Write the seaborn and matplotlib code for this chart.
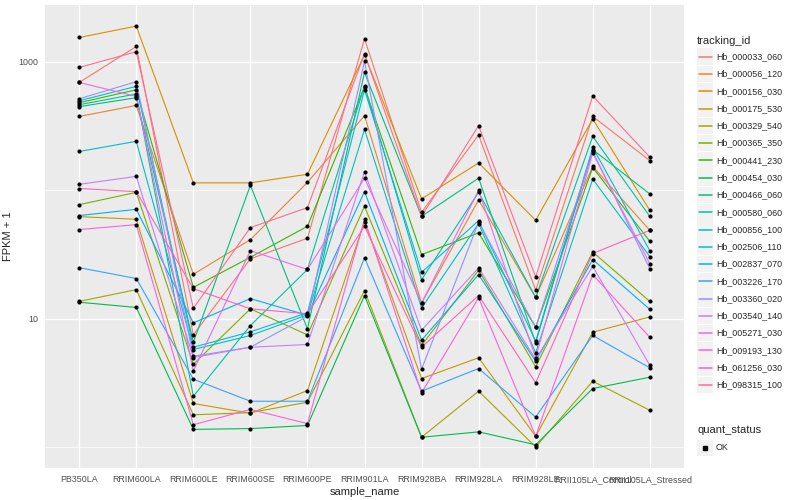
import matplotlib
matplotlib.use("Agg")
import matplotlib.pyplot as plt
import seaborn as sns
import numpy as np
import pandas as pd
from matplotlib.lines import Line2D
from matplotlib.patches import Rectangle
from matplotlib.ticker import FixedLocator, NullFormatter

# data: FPKM + 1 per sample
samples = ["PB350LA", "RRIM600LA", "RRIM600LE", "RRIM600SE", "RRIM600PE", "RRIM901LA",
           "RRIM928BA", "RRIM928LA", "RRIM928LE", "RRII105LA_Control", "RRII105LA_Stressed"]

hb_000033_060 = [690, 1315, 7.46, 29.2, 42.2, 1510, 67.2, 269, 16.6, 375, 170]
hb_000056_120 = [375, 457, 22.1, 41.2, 115, 380, 13.2, 83.9, 14.6, 153, 48.7]
hb_000156_030 = [1545, 1895, 114, 114, 133, 1133, 85.5, 163, 58.2, 358, 69.7]
hb_000175_530 = [62.2, 59.3, 2.18, 1.83, 2.75, 56.9, 3.41, 4.95, 1.21, 7.82, 10.3]
hb_000329_540 = [13.6, 16.8, 1.78, 1.85, 2.23, 16.5, 1.19, 2.72, 1.0, 3.25, 1.93]
hb_000365_350 = [77.1, 96.1, 4.41, 11.9, 7.46, 74.8, 6.17, 23.8, 4.21, 33.0, 13.6]
hb_000441_230 = [480, 605, 17.5, 30.0, 52.3, 635, 31.5, 46.5, 8.56, 150, 40.0]
hb_000454_030 = [13.4, 12.2, 1.37, 1.39, 1.47, 15.1, 1.19, 1.31, 1.04, 2.85, 3.49]
hb_000466_060 = [447, 525, 6.54, 109, 8.31, 826, 62.5, 124, 6.47, 207, 93.4]
hb_000580_060 = [463, 561, 2.48, 8.82, 24.1, 650, 20.1, 96.1, 14.6, 262, 62.5]
hb_000856_100 = [200, 240, 5.74, 7.38, 10.7, 297, 12.1, 54.8, 5.41, 122, 30.4]
hb_002506_110 = [497, 643, 5.98, 7.88, 11.1, 605, 22.9, 57.9, 6.66, 215, 33.8]
hb_002837_070 = [63.4, 70.9, 9.26, 14.3, 10.6, 97.3, 6.78, 22.0, 4.65, 28.8, 11.8]
hb_003226_170 = [24.9, 20.5, 3.37, 2.27, 2.27, 29.7, 2.72, 4.08, 1.71, 7.38, 4.13]
hb_003360_020 = [515, 699, 5.09, 5.98, 10.4, 1005, 4.03, 56.2, 8.56, 200, 24.5]
hb_003540_140 = [111, 128, 4.97, 5.98, 6.28, 139, 8.11, 24.8, 4.80, 25.5, 4.33]
hb_005271_030 = [690, 537, 3.92, 33.8, 24.1, 124, 13.2, 99.6, 4.95, 195, 26.8]
hb_009193_130 = [49.3, 53.9, 1.49, 1.96, 1.52, 59.3, 2.64, 14.5, 1.21, 22.0, 7.15]
hb_061256_030 = [103, 97.3, 17.1, 11.9, 10.9, 52.3, 5.98, 15.1, 3.16, 32.1, 48.7]
hb_098315_100 = [903, 1197, 12.0, 51.1, 73.1, 1153, 62.5, 318, 21.1, 541, 181]

tracking_ids = ["Hb_000033_060", "Hb_000056_120", "Hb_000156_030", "Hb_000175_530",
                "Hb_000329_540", "Hb_000365_350", "Hb_000441_230", "Hb_000454_030",
                "Hb_000466_060", "Hb_000580_060", "Hb_000856_100", "Hb_002506_110",
                "Hb_002837_070", "Hb_003226_170", "Hb_003360_020", "Hb_003540_140",
                "Hb_005271_030", "Hb_009193_130", "Hb_061256_030", "Hb_098315_100"]
series = [hb_000033_060, hb_000056_120, hb_000156_030, hb_000175_530, hb_000329_540,
          hb_000365_350, hb_000441_230, hb_000454_030, hb_000466_060, hb_000580_060,
          hb_000856_100, hb_002506_110, hb_002837_070, hb_003226_170, hb_003360_020,
          hb_003540_140, hb_005271_030, hb_009193_130, hb_061256_030, hb_098315_100]

colors = ["#F8766D", "#EA8331", "#D89000", "#C09B00", "#A3A500", "#7CAE00", "#39B600",
          "#00BB4E", "#00BF7D", "#00C1A3", "#00BFC4", "#00BAE0", "#00B0F6", "#35A2FF",
          "#9590FF", "#C77CFF", "#E76BF3", "#FA62DB", "#FF62BC", "#FF6C91"]

rows = []
for tid, vals in zip(tracking_ids, series):
    for s, v in zip(samples, vals):
        rows.append({"sample_name": s, "tracking_id": tid, "fpkm1": v})
df = pd.DataFrame(rows)

sns.set_style("darkgrid", {"axes.facecolor": "#EBEBEB", "grid.color": "white"})
plt.rcParams["font.family"] = ["Liberation Sans", "DejaVu Sans"]

W, H = 800, 500
fig = plt.figure(figsize=(8, 5), dpi=100)
ax = fig.add_axes([45 / W, 1 - 468 / H, 639 / W, 463 / H])

sns.lineplot(data=df, x="sample_name", y="fpkm1", hue="tracking_id", palette=colors,
             estimator=None, sort=False, linewidth=0.8, legend=False, ax=ax)
sns.scatterplot(data=df, x="sample_name", y="fpkm1", color="black", s=9,
                linewidth=0, legend=False, ax=ax, zorder=5)

ax.set_yscale("log")
ax.set_ylim(10 ** -0.164, 10 ** 3.442)
ax.set_xlim(-0.6, 10.6)
ax.yaxis.set_major_locator(FixedLocator([10, 1000]))
ax.set_yticklabels(["10", "1000"])
ax.yaxis.set_minor_locator(FixedLocator([1, 100]))
ax.yaxis.set_minor_formatter(NullFormatter())
ax.grid(which="major", color="white", linewidth=1.0)
ax.grid(which="minor", axis="y", color="white", linewidth=0.5)
for sp in ax.spines.values():
    sp.set_visible(False)
ax.tick_params(which="major", length=3, width=0.6, color="#333333",
               labelsize=6.4, labelcolor="#4D4D4D", pad=2)
ax.tick_params(which="minor", length=0)
ax.set_xlabel("sample_name", fontsize=8, labelpad=2)
ax.set_ylabel("FPKM + 1", fontsize=8)
ax.yaxis.set_label_coords((12.7 - 45) / 639, 0.5)


def px(x, y):
    return x / W, 1 - y / H


# legend: tracking_id
fig.text(*px(697, 41), "tracking_id", fontsize=8, va="center", ha="left")
for i, (tid, c) in enumerate(zip(tracking_ids, colors)):
    cy = 56.7 + i * 17.28
    x0, y0 = px(697, cy + 8.3)
    fig.add_artist(Rectangle((x0, y0), 16 / W, 16.6 / H, transform=fig.transFigure,
                             facecolor="#F2F2F2", edgecolor="none", zorder=1))
    lx0, ly = px(698.5, cy)
    lx1, _ = px(711.5, cy)
    fig.add_artist(Line2D([lx0, lx1], [ly, ly], transform=fig.transFigure,
                          color=c, linewidth=1.1, zorder=3))
    fig.text(*px(716, cy), tid, fontsize=6.4, va="center", ha="left")

# legend: quant_status
fig.text(*px(697, 430), "quant_status", fontsize=8, va="center", ha="left")
x0, y0 = px(697, 448 + 8.3)
fig.add_artist(Rectangle((x0, y0), 16 / W, 16.6 / H, transform=fig.transFigure,
                         facecolor="#F2F2F2", edgecolor="none", zorder=1))
fig.add_artist(Line2D([705 / W], [1 - 448 / H], transform=fig.transFigure,
                      marker="s", markersize=2.5, color="black", linestyle="none", zorder=3))
fig.text(*px(716, 448), "OK", fontsize=6.4, va="center", ha="left")

fig.savefig("out.png", dpi=100)
